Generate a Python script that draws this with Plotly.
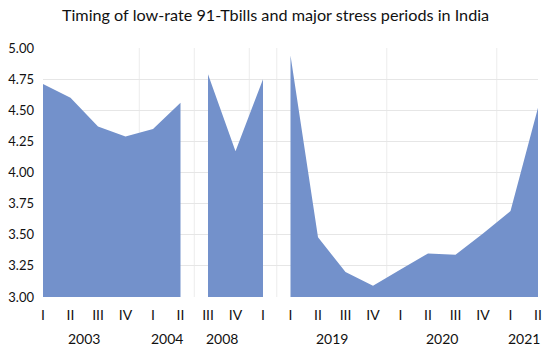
import plotly.graph_objects as go

quarters = ["I", "II", "III", "IV", "I", "II", "III", "IV", "I",
            "I", "II", "III", "IV", "I", "II", "III", "IV", "I", "II"]
years = [2003, 2003, 2003, 2003, 2004, 2004, 2008, 2008, 2009,
         2019, 2019, 2019, 2019, 2020, 2020, 2020, 2020, 2021, 2021]
year_labels = {2003: "2003", 2004: "2004", 2008: "2008", 2009: "",
               2019: "2019", 2020: "2020", 2021: "2021"}
values = [4.71, 4.60, 4.37, 4.29, 4.35, 4.56, 4.79, 4.17, 4.75,
          4.94, 3.48, 3.20, 3.09, 3.22, 3.35, 3.34, 3.51, 3.69, 4.52]
segments = [0, 0, 0, 0, 0, 0, 1, 1, 1,
            2, 2, 2, 2, 2, 2, 2, 2, 2, 2]

idx = list(range(len(values)))
fill_color = "#7391CB"

fig = go.Figure()
for s in sorted(set(segments)):
    xs = [i for i in idx if segments[i] == s]
    ys = [values[i] for i in xs]
    fig.add_trace(go.Scatter(x=xs, y=ys, mode="lines", fill="tozeroy",
                             line=dict(width=0, color=fill_color),
                             fillcolor=fill_color, showlegend=False,
                             hoverinfo="x+y"))

# year group boundaries and labels
shapes = []
annotations = []
uniq_years = []
for y in years:
    if y not in uniq_years:
        uniq_years.append(y)
for k, yr in enumerate(uniq_years):
    pos = [i for i in idx if years[i] == yr]
    center = sum(pos) / len(pos)
    if year_labels[yr]:
        annotations.append(dict(x=center, y=-0.165, xref="x", yref="paper",
                                text=year_labels[yr], showarrow=False,
                                font=dict(size=14, color="#111"),
                                yanchor="middle"))
    if k > 0:
        b = pos[0] - 0.5
        shapes.append(dict(type="line", xref="x", yref="paper", x0=b, x1=b,
                           y0=0, y1=1, line=dict(color="#ECECEC", width=1),
                           layer="below"))

fig.update_layout(
    width=550, height=351,
    margin=dict(l=43, r=12, t=48, b=54, autoexpand=False),
    paper_bgcolor="white", plot_bgcolor="white",
    font=dict(family="Lato, Open Sans, sans-serif", color="#111"),
    title=dict(text="Timing of low-rate 91-Tbills and major stress periods in India",
               x=0.501, xanchor="center", xref="container", y=0.955, yref="container",
               yanchor="middle", pad=dict(t=0),
               font=dict(size=16.2, color="#111")),
    shapes=shapes, annotations=annotations,
    xaxis=dict(range=[0, len(values) - 1], tickvals=idx, ticktext=quarters,
               showgrid=False, zeroline=False, showline=False,
               tickfont=dict(size=14, color="#111"), ticks="",
               ticklabelstandoff=8, automargin=False),
    yaxis=dict(range=[3.0, 5.0], tickvals=[3.0, 3.25, 3.5, 3.75, 4.0, 4.25, 4.5, 4.75, 5.0],
               tickformat=".2f", showgrid=True, gridcolor="#E6E6E6",
               zeroline=False, showline=False,
               tickfont=dict(size=13, color="#111"), ticks="",
               ticklabelstandoff=8, automargin=False),
)

fig.write_html("out.html", config={"displayModeBar": False},
               post_script="document.body.style.margin='0';")
